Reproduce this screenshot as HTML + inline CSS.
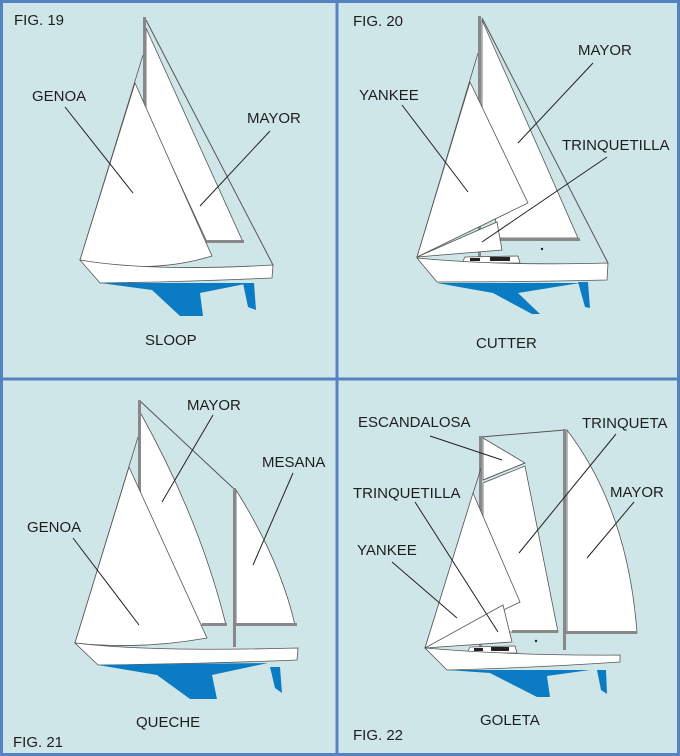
<!DOCTYPE html>
<html><head><meta charset="utf-8"><style>
html,body{margin:0;padding:0;background:#cfe6e8;}
svg{display:block}
text{font-family:"Liberation Sans",Arial,sans-serif;font-size:15px;fill:#1e1e1e;}
</style></head><body>
<svg width="680" height="756" viewBox="0 0 680 756" xmlns="http://www.w3.org/2000/svg">
<rect x="0" y="0" width="680" height="756" fill="#cfe6e8"/>
<g fill="none" stroke="#5583c2" stroke-width="3">
<rect x="1.5" y="1.5" width="677" height="753"/>
<line x1="337" y1="0" x2="337" y2="756"/>
<line x1="0" y1="379" x2="680" y2="379"/>
</g>

<!-- FIG 19 -->
<g stroke="#555" stroke-width="0.8">
<path d="M146,28 L243,242 L207,242 L146,110 Z" fill="#fff"/>
<line x1="146" y1="20" x2="273" y2="265" stroke-width="1"/>
<rect x="143" y="17" width="3" height="92" fill="#888" stroke="none"/>
<rect x="205" y="240" width="39" height="3" fill="#888" stroke="none"/>
<line x1="143" y1="55" x2="80" y2="260"/>
<path d="M135,83 L212,256 Q150,275 80,260 Z" fill="#fff"/>
<path d="M80,260 Q150,272 273,265 L272,278 Q180,282 100,283 Z" fill="#fff"/>
</g>
<path d="M100,283 L250,283 L200,293 L203,316 L180,316 L152,290 Z" fill="#0b7cc4"/>
<path d="M243,283 L254,283 L256,310 L248,307 Z" fill="#0b7cc4"/>
<g stroke="#222" stroke-width="1"><line x1="65" y1="107" x2="133" y2="193"/><line x1="270" y1="131" x2="200" y2="206"/></g>
<text x="14" y="25">FIG. 19</text>
<text x="32" y="101">GENOA</text>
<text x="247" y="123">MAYOR</text>
<text x="145" y="345">SLOOP</text>

<!-- FIG 20 -->
<g stroke="#555" stroke-width="0.8">
<path d="M482,20 L578,238 L498,238 L482,120 Z" fill="#fff"/>
<line x1="482" y1="18" x2="608" y2="263" stroke-width="1"/>
<rect x="478" y="16" width="3" height="242" fill="#888" stroke="none"/>
<rect x="498" y="238" width="82" height="3" fill="#888" stroke="none"/>
<line x1="478" y1="53" x2="417" y2="257"/>
<path d="M470,82 L528,203 L417,257 Z" fill="#fff"/>
<path d="M417,257 L497,222 L502,250 Z" fill="#fff"/>
<path d="M462,263 L465,257 L518,256 L520,263 Z" fill="#fff"/>
<path d="M417,258 Q500,266 608,263 L607,280 Q520,282 437,282 Z" fill="#fff"/>
</g>
<rect x="470" y="258" width="10" height="3" fill="#222"/><rect x="490" y="257" width="20" height="4" fill="#222"/>
<circle cx="542" cy="249" r="1.2" fill="#222"/>
<path d="M437,283 L580,283 L518,293 L540,314 L532,314 L493,293 Z" fill="#0b7cc4"/>
<path d="M578,282 L588,282 L590,308 L585,307 Z" fill="#0b7cc4"/>
<g stroke="#222" stroke-width="1"><line x1="593" y1="63" x2="518" y2="143"/><line x1="402" y1="105" x2="468" y2="192"/><line x1="607" y1="157" x2="482" y2="242"/></g>
<text x="353" y="26">FIG. 20</text>
<text x="578" y="55">MAYOR</text>
<text x="359" y="100">YANKEE</text>
<text x="562" y="150">TRINQUETILLA</text>
<text x="476" y="348">CUTTER</text>

<!-- FIG 21 -->
<g stroke="#555" stroke-width="0.8">
<path d="M140,412 Q200,520 226,625 L140,625 Z" fill="#fff"/>
<line x1="140" y1="401" x2="233" y2="488" stroke-width="1"/>
<rect x="138" y="400" width="3" height="110" fill="#888" stroke="none"/>
<rect x="202" y="623" width="25" height="3" fill="#888" stroke="none"/>
<path d="M236,490 Q280,560 295,625 L236,625 Z" fill="#fff"/>
<rect x="233" y="488" width="3" height="159" fill="#888" stroke="none"/>
<rect x="236" y="623" width="61" height="3" fill="#888" stroke="none"/>
<line x1="138" y1="437" x2="75" y2="643"/>
<path d="M129,467 L207,638 Q140,650 75,643 Z" fill="#fff"/>
<path d="M75,643 Q150,652 298,648 L297,660 Q200,664 98,665 Z" fill="#fff"/>
</g>
<path d="M98,665 L268,663 L212,675 L217,699 L190,699 L157,675 Z" fill="#0b7cc4"/>
<path d="M270,667 L280,667 L282,693 L275,688 Z" fill="#0b7cc4"/>
<g stroke="#222" stroke-width="1"><line x1="213" y1="415" x2="162" y2="502"/><line x1="293" y1="473" x2="253" y2="565"/><line x1="73" y1="538" x2="139" y2="625"/></g>
<text x="187" y="410">MAYOR</text>
<text x="262" y="467">MESANA</text>
<text x="27" y="532">GENOA</text>
<text x="136" y="727">QUECHE</text>
<text x="13" y="747">FIG. 21</text>

<!-- FIG 22 -->
<g stroke="#555" stroke-width="0.8">
<line x1="481" y1="437" x2="565" y2="430" stroke-width="1"/>
<path d="M567,430 Q628,510 637,633 L567,633 Z" fill="#fff"/>
<path d="M483,438 L525,463 L483,480 Z" fill="#fff"/>
<path d="M483,483 L525,466 L558,632 L483,632 Z" fill="#fff"/>
<line x1="483" y1="480" x2="525" y2="463"/>
<rect x="479" y="436" width="3" height="211" fill="#888" stroke="none"/>
<rect x="563" y="429" width="3" height="221" fill="#888" stroke="none"/>
<rect x="512" y="630" width="46" height="3" fill="#888" stroke="none"/>
<rect x="566" y="631" width="71" height="3" fill="#888" stroke="none"/>
<line x1="481" y1="468" x2="425" y2="648"/>
<path d="M473,493 L520,602 L425,648 Z" fill="#fff"/>
<path d="M425,648 L503,605 L512,642 Z" fill="#fff"/>
<path d="M467,653 L470,647 L515,646 L517,653 Z" fill="#fff"/>
<path d="M425,648 Q520,656 620,655 L620,662 Q530,668 447,670 Z" fill="#fff"/>
</g>
<rect x="474" y="648" width="9" height="3" fill="#222"/><rect x="491" y="647" width="18" height="4" fill="#222"/>
<circle cx="536" cy="641" r="1.2" fill="#222"/>
<path d="M447,670 L590,670 L547,676 L550,697 L537,697 L490,673 Z" fill="#0b7cc4"/>
<path d="M597,670 L606,670 L607,694 L601,690 Z" fill="#0b7cc4"/>
<g stroke="#222" stroke-width="1"><line x1="430" y1="436" x2="502" y2="460"/><line x1="616" y1="434" x2="519" y2="553"/><line x1="634" y1="502" x2="587" y2="558"/><line x1="415" y1="502" x2="498" y2="632"/><line x1="392" y1="562" x2="457" y2="618"/></g>
<text x="358" y="427">ESCANDALOSA</text>
<text x="582" y="428">TRINQUETA</text>
<text x="610" y="497">MAYOR</text>
<text x="353" y="498">TRINQUETILLA</text>
<text x="357" y="555">YANKEE</text>
<text x="480" y="725">GOLETA</text>
<text x="353" y="740">FIG. 22</text>
</svg>
</body></html>
